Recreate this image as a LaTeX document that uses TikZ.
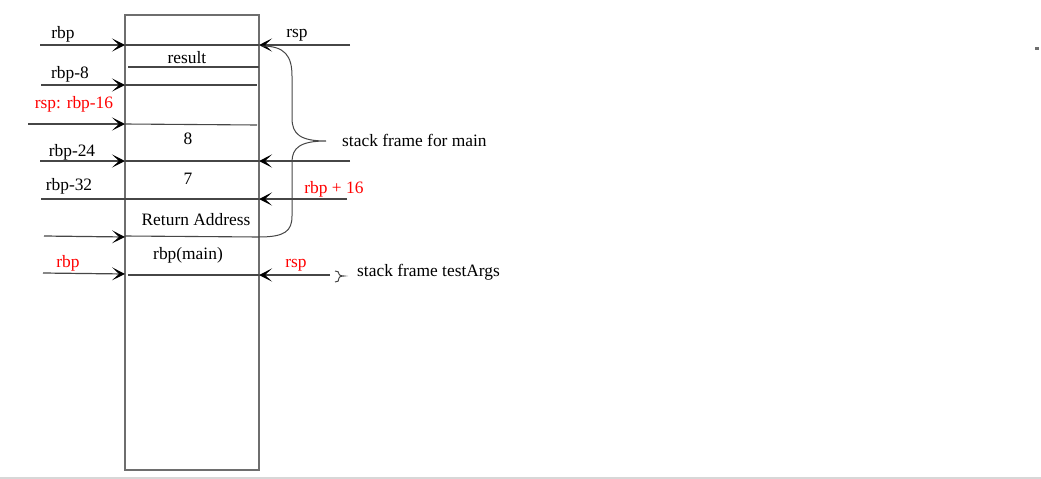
\documentclass[tikz,border=0pt]{standalone}
\usepackage{fontspec}
\setmainfont{Liberation Serif}
\usetikzlibrary{arrows.meta}
\definecolor{ln}{RGB}{70,70,70}
\definecolor{bx}{RGB}{110,110,110}
\definecolor{rd}{RGB}{255,0,0}
\tikzset{
  txt/.style={inner sep=0pt, font=\fontsize{17.4}{20}\selectfont},
  arr/.style={draw=ln, line width=1.2pt, -{Stealth[length=13pt,width=13pt,inset=7pt,fill=black,color=black]}},
  plain/.style={draw=ln, line width=1.2pt},
  cell/.style={draw=ln, line width=1.1pt},
}
\begin{document}
\begin{tikzpicture}[x=1pt,y=-1pt]
\useasboundingbox (0,0) rectangle (1041,479);
% outer box
\draw[draw=bx, line width=1.2pt] (125,15) rectangle (259,470);
% divider lines
\coordinate (d1l) at (125,45);  \coordinate (d1r) at (259,45);
\coordinate (d2l) at (128,67);  \coordinate (d2r) at (259,67);
\coordinate (d3l) at (125,85);  \coordinate (d3r) at (257,85);
\coordinate (d4l) at (125,124); \coordinate (d4r) at (257,125);
\coordinate (d5l) at (125,161); \coordinate (d5r) at (259,161);
\coordinate (d6l) at (125,199); \coordinate (d6r) at (259,199);
\coordinate (d7l) at (125,236); \coordinate (d7r) at (259,237);
\coordinate (d8l) at (128,275); \coordinate (d8r) at (259,275);
\foreach \i in {1,...,8} { \draw[cell] (d\i l) -- (d\i r); }
% cell texts
\node[txt] (result) at (187,58) {result};
\node[txt] (eight) at (188,139) {8};
\node[txt] (seven) at (188,179) {7};
\node[txt] (ret) at (196,220) {Return Address};
\node[txt] (rbpmain) at (188,255) {rbp(main)};
% left arrows
\coordinate (l1) at (40,45);
\coordinate (l2) at (41,85);
\coordinate (l3) at (28,124);
\coordinate (l4) at (40,161);
\coordinate (l5) at (41,199);
\coordinate (l6) at (44,236);
\coordinate (l7) at (43,273);
\coordinate (t1) at (125,45);
\coordinate (t2) at (125,85);
\coordinate (t3) at (125,124);
\coordinate (t4) at (125,161);
\coordinate (t5) at (125,199);
\coordinate (t6) at (125,237);
\coordinate (t7) at (125,274);
\draw[arr] (l1) -- (t1);
\draw[arr] (l2) -- (t2);
\draw[arr] (l3) -- (t3);
\draw[arr] (l4) -- (t4);
\draw[plain] (l5) -- (t5);
\draw[arr] (l6) -- (t6);
\draw[arr] (l7) -- (t7);
\node[txt] (lrbp) at (63,34) {rbp};
\node[txt] (lrbp8) at (70,74) {rbp-8};
\node[txt, text=rd] (lrsp) at (74,104) {rsp: rbp-16};
\node[txt] (lrbp24) at (72,152) {rbp-24};
\node[txt] (lrbp32) at (69,186) {rbp-32};
\node[txt, text=rd] (lrbpr) at (68,263) {rbp};
% right arrows
\coordinate (r1) at (350,45);
\coordinate (r2) at (350,161);
\coordinate (r3) at (347,199);
\coordinate (r4) at (330,275);
\coordinate (s1) at (259,45);
\coordinate (s2) at (259,161);
\coordinate (s3) at (259,199);
\coordinate (s4) at (259,275);
\draw[arr] (r1) -- (s1);
\draw[arr] (r2) -- (s2);
\draw[arr] (r3) -- (s3);
\draw[arr] (r4) -- (s4);
\node[txt] (rrsp) at (297,35) {rsp};
\node[txt, text=rd] (rrbp16) at (334,189) {rbp + 16};
\node[txt, text=rd] (rrspr) at (296,265) {rsp};
% big brace
\coordinate (bt) at (262,46);
\coordinate (bb) at (259,237);
\coordinate (btip) at (326,141);
\draw[plain, line width=1pt] (bt) .. controls (285,46) and (292,56) .. (292,76) -- (292,118)
  .. controls (292,134) and (300,141) .. (btip)
  .. controls (300,141) and (292,148) .. (292,162) -- (292,216)
  .. controls (292,231) and (285,237) .. (bb);
\node[txt, anchor=west] (sfmain) at (342,140) {stack frame for main};
% small brace
\coordinate (sbt) at (335,271);
\coordinate (sbb) at (335,282);
\coordinate (sbtip) at (344,276);
\draw[plain, line width=1pt] (sbt) .. controls (338,271) and (339,272) .. (339,274)
  .. controls (339,275.5) and (341,276) .. (sbtip)
  .. controls (341,276) and (339,276.5) .. (339,278)
  .. controls (339,281) and (338,282) .. (sbb);
\node[txt, anchor=west] (sfargs) at (357,272) {stack frame testArgs};
% stray dot and bottom rule
\fill[bx] (1035,47) rectangle (1039,50);
\draw[draw={rgb,255:red,215;green,215;blue,215}, line width=1.2pt] (0,478) -- (1041,478);
\end{tikzpicture}
\end{document}
